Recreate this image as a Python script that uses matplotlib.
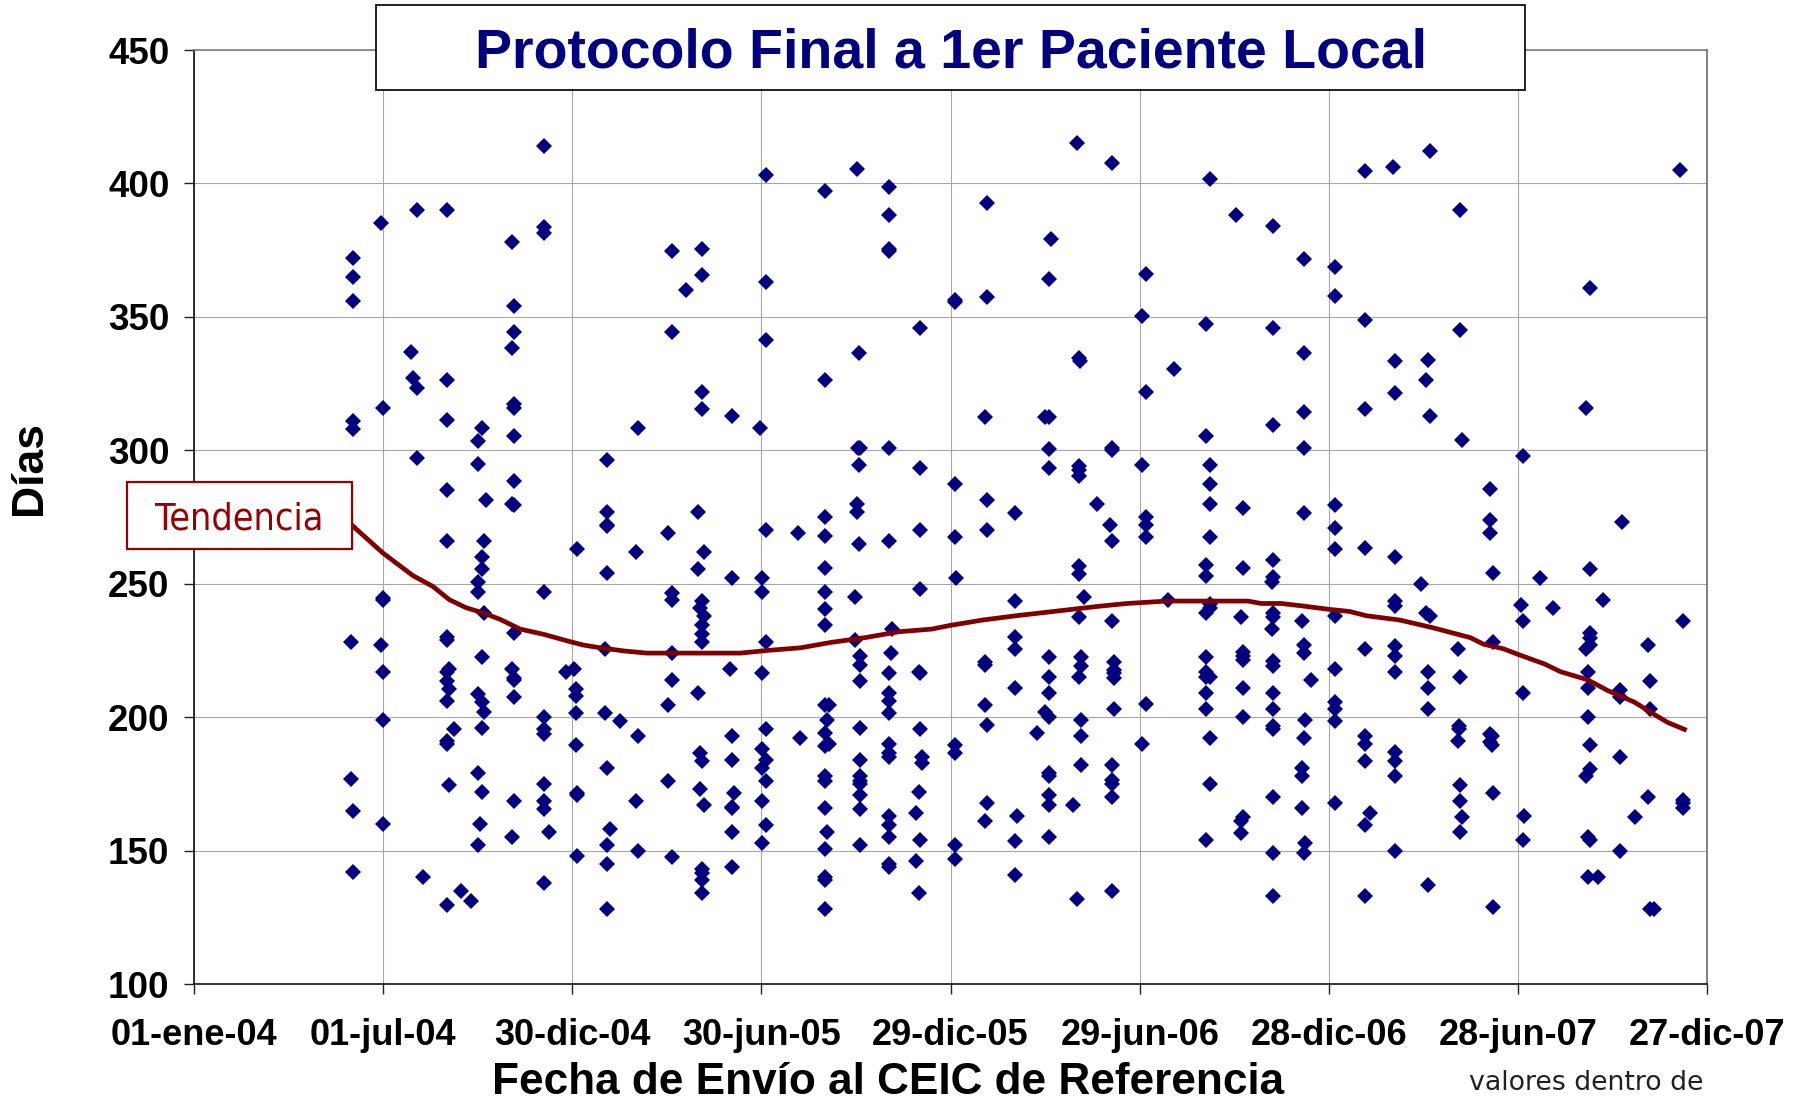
import matplotlib
matplotlib.use("Agg")
import matplotlib.pyplot as plt
from matplotlib.patches import Rectangle
import numpy as np

# each entry: day since 01-ene-04, then the values read in that column
puntos_2004 = [
    (151, [228, 177]),
    (153, [372, 365, 356, 311, 308, 165, 142]),
    (180, [385, 227]),
    (182, [316, 244.7, 244, 217, 199, 160]),
    (209, [337]),
    (211, [327]),
    (215, [390, 323.5, 297]),
    (221, [140]),
    (244, [390, 326.5, 311.5, 285, 266, 230, 229, 217, 213.5, 206, 191, 190, 129.5]),
    (246, [218, 210.5, 174.5]),
    (250, [195.5]),
    (257, [135]),
    (267, [131]),
    (273, [303.5, 295, 250.5, 247, 208.5, 179, 152]),
    (275, [160]),
    (277, [308.5, 260, 255.5, 222.5, 205.5, 196, 172]),
    (279, [266, 239, 202]),
    (281, [281.5]),
    (306, [378, 338.5, 280, 218, 155]),
    (308, [354, 344.5, 317.5, 316, 305.5, 288.5, 279.5, 231.5, 214.5, 214, 207.5, 168.5]),
    (337, [414, 383.5, 381.5, 247, 200, 195.5, 193.5, 175, 168.5, 165.5, 138]),
    (342, [157]),
    (358, [217]),
]
puntos_2005 = [
    (366, [218]),
    (368, [210.5, 208, 201.5, 189.5]),
    (369, [263, 171.5, 171, 148]),
    (396, [225.5, 201.5]),
    (398, [296.5, 277, 272, 271.5, 254, 181, 152, 145, 128]),
    (400, [158]),
    (410, [198.5]),
    (425, [262, 168.5]),
    (427, [308.5, 193, 150]),
    (456, [269, 204.5, 176]),
    (460, [374.5, 344.5, 246.5, 244, 224, 214, 147.5]),
    (474, [360]),
    (485, [277, 255.5, 209]),
    (487, [241, 186.5, 173]),
    (489, [375.5, 365.5, 322, 315.5, 243.5, 234.5, 231, 228, 183.5, 143, 141.5, 139, 134]),
    (491, [262, 238, 167]),
    (516, [218]),
    (518, [313, 252, 193, 184, 166.5, 166, 157, 144]),
    (520, [171.5]),
    (545, [308.5]),
    (547, [252, 247, 216.5, 188, 181, 168.5, 153]),
    (551, [403, 363, 341.5, 270, 228, 195.5, 184, 176, 159.5]),
    (581, [269]),
    (583, [192]),
    (607, [397, 326.5, 275, 268, 256, 247, 240.5, 234.5, 204.5, 194, 189, 178, 176, 166, 150.5, 140, 139, 128]),
    (609, [199, 157]),
    (611, [204.5, 190]),
    (636, [245, 229]),
    (638, [405.5, 280, 277]),
    (639, [301]),
    (640, [336.5, 294.5, 265]),
    (641, [301, 223, 219.5, 213.5, 196, 184, 178, 176, 175, 171, 165.5, 152]),
    (669, [398.5, 388, 375.5, 374.5, 301, 266, 216.5, 209, 206, 201.5, 190, 186.5, 185, 163, 159.5, 155, 145, 144]),
    (671, [224]),
    (672, [233]),
    (695, [164, 146]),
    (698, [217, 172, 134]),
    (699, [346, 293.5, 270, 248, 216.5, 195.5, 154]),
    (701, [185, 183]),
]
puntos_2006 = [
    (732, [356.5, 355.5, 287.5, 267.5, 189.5, 186.5, 152, 147]),
    (733, [252]),
    (761, [312.5, 220.5, 219.5, 204.5, 161]),
    (763, [392.5, 357.5, 281.5, 270, 197, 168]),
    (790, [276.5, 243.5, 230, 225.5, 211, 153.5, 141]),
    (792, [163]),
    (811, [194]),
    (819, [312.5, 202]),
    (823, [364, 312.5, 300.5, 293.5, 222.5, 215, 209, 200, 179, 178, 171, 167, 155]),
    (825, [379]),
    (846, [167]),
    (850, [415, 132]),
    (852, [334.5, 294, 292.5, 290.5, 256.5, 253.5, 237.5, 215]),
    (853, [333.5]),
    (854, [222.5, 219, 199, 193, 182]),
    (856, [245]),
    (869, [280]),
    (881, [272]),
    (883, [407.5, 301, 300, 266, 236, 182, 176.5, 175, 170, 135]),
    (885, [220.5, 217.5, 216.5, 214.5, 203]),
    (912, [350.5, 294.5, 190]),
    (916, [366, 322, 275, 272, 267.5, 205]),
    (937, [244]),
    (943, [330.5]),
    (974, [347.5, 305.5, 257, 253, 239, 222.5, 217, 215, 209, 203, 154]),
    (978, [401.5, 294.5, 287.5, 280, 267.5, 242.5, 241, 215, 192, 175]),
    (1003, [388]),
    (1007, [237.5, 161, 156.5]),
    (1009, [278.5, 256, 224.5, 223, 221.5, 211, 200, 162.5]),
    (1037, [250.5, 233]),
    (1038, [384, 346, 309.5, 259, 252.5, 239, 237.5, 221, 219, 209, 203, 196.5, 195.5, 170, 149, 133]),
    (1066, [236, 181, 178, 166]),
    (1068, [371.5, 336.5, 314.5, 301, 276.5, 227, 224, 192, 149]),
    (1069, [199, 153]),
    (1075, [214]),
]
puntos_2007 = [
    (1098, [368.5, 358, 279.5, 271, 263, 238, 218, 205.5, 203, 198.5, 168]),
    (1127, [404.5, 349, 315.5, 263.5, 225.5, 193, 190, 183.5, 159.5, 133]),
    (1132, [164]),
    (1154, [406]),
    (1156, [333.5, 321.5, 260, 243.5, 241.5, 226.5, 223, 217, 187, 183.5, 178, 150]),
    (1181, [250]),
    (1185, [326.5, 239]),
    (1187, [334, 217, 211, 203, 137]),
    (1189, [412, 313, 238]),
    (1216, [225.5, 191]),
    (1217, [196.5, 195.5]),
    (1218, [390, 345, 215, 174.5, 168.5, 157]),
    (1220, [304, 162.5]),
    (1247, [285.5, 274, 269, 193.5, 190.5]),
    (1249, [193, 189.5]),
    (1250, [254, 228, 171.5, 129]),
    (1277, [242]),
    (1279, [298, 236, 209, 154]),
    (1280, [163]),
    (1295, [252]),
    (1308, [241]),
    (1339, [316, 225.5, 178]),
    (1341, [217, 211, 200, 155, 140]),
    (1343, [361, 255.5, 231.5, 229.5, 227, 189.5, 180.5, 154]),
    (1351, [140]),
    (1356, [244]),
    (1372, [210, 207.5, 185, 150]),
    (1374, [273]),
    (1386, [162.5]),
    (1399, [227, 170]),
    (1401, [213.5, 203, 128]),
    (1405, [128]),
    (1430, [405]),
    (1433, [236, 169, 168, 166]),
]

tendencia_dias = [152, 182, 211, 230, 246, 262, 279, 295, 314, 337, 360, 375, 391, 414, 436,
                  526, 552, 584, 613, 646, 678, 710, 728, 759, 791, 836, 872, 898, 936, 1014,
                  1027, 1046, 1066, 1080, 1092, 1112, 1128, 1160, 1192, 1228, 1241, 1260, 1274,
                  1299, 1315, 1341, 1360, 1386, 1405, 1418, 1434]
tendencia_valores = [272, 261.5, 253, 249, 244, 241, 239, 236.6, 233, 231, 228.5, 227, 226, 224.8, 224,
                     224, 225, 226, 228, 229.8, 232, 233, 234.4, 236.4, 238, 240, 241.6, 242.6, 243.5, 243.5,
                     242.6, 242.6, 241.7, 241, 240.4, 239.6, 238, 236.4, 233.5, 229.8, 227.3, 225.6, 223.5,
                     220, 217, 214, 210, 205.6, 201, 198, 195.4]

x_ticks = [0, 182, 364, 546, 728, 910, 1092, 1274, 1456]
x_labels = ["01-ene-04", "01-jul-04", "30-dic-04", "30-jun-05", "29-dic-05",
            "29-jun-06", "28-dic-06", "28-jun-07", "27-dic-07"]
y_ticks = [100, 150, 200, 250, 300, 350, 400, 450]

W, H = 1801, 1102


def box(x0, y0, x1, y1, edge, lw):
    # pixel box, y measured from the top of the picture
    fig.add_artist(Rectangle((x0 / W, 1 - y1 / H), (x1 - x0) / W, (y1 - y0) / H, transform=fig.transFigure,
                             facecolor="white", edgecolor=edge, linewidth=lw, zorder=5))


dias = []
valores = []
for grupo in [puntos_2004, puntos_2005, puntos_2006, puntos_2007]:
    for dia, vals in grupo:
        dias += [dia] * len(vals)
        valores += vals

fig = plt.figure(figsize=(W / 100, H / 100), dpi=100, facecolor="white")
ax = fig.add_axes([193.7 / W, 1 - 984 / H, (1707.3 - 193.7) / W, (984 - 50) / H])

ax.plot(dias, valores, linestyle="none", marker="D", markersize=8.2, color="#000080",
        markeredgewidth=0, zorder=3, clip_on=False)
ax.plot(tendencia_dias, tendencia_valores, color="#800000", linewidth=3.4, zorder=4)

ax.set_xlim(0, 1456)
ax.set_ylim(100, 450)
ax.set_xticks(x_ticks)
ax.set_xticklabels(x_labels, fontsize=26, fontweight="bold", family="Liberation Sans")
ax.set_yticks(y_ticks)
ax.set_yticklabels([str(v) for v in y_ticks], fontsize=26.5, fontweight="bold", family="Liberation Sans")
ax.tick_params(axis="both", direction="out", length=7.5, width=1, color="#202020", pad=10)
ax.tick_params(axis="x", pad=17)
ax.grid(True, color="#a6a6a6", linewidth=0.8)
ax.set_axisbelow(True)

ax.spines["left"].set_color("#101010")
ax.spines["bottom"].set_color("#101010")
ax.spines["left"].set_linewidth(1.2)
ax.spines["bottom"].set_linewidth(1.2)
ax.spines["top"].set_color("#808080")
ax.spines["right"].set_color("#808080")
ax.spines["top"].set_linewidth(1.2)
ax.spines["right"].set_linewidth(1.4)

# title box
box(376, 5.5, 1525, 90, "#101010", 1.3)
fig.text(951 / W, 1 - 54 / H, "Protocolo Final a 1er Paciente Local", fontsize=40, fontweight="bold",
         color="#000080", ha="center", va="center", zorder=6, family="Liberation Sans")

# trend label
box(127, 482, 352, 548.5, "#990000", 1.6)
fig.text(239 / W, 1 - 520 / H, "Tendencia", fontsize=27, color="#990000", ha="center", va="center",
         zorder=6, family="DejaVu Sans", fontstretch="condensed")

fig.text(888 / W, 1 - 1083 / H, "Fecha de Envío al CEIC de Referencia", fontsize=31.8, fontweight="bold",
         color="black", ha="center", va="center", family="Liberation Sans")
fig.text(30 / W, 1 - 468 / H, "Días", fontsize=32, fontweight="bold", rotation=90,
         ha="center", va="center", family="Liberation Sans")
fig.text(1586 / W, 1 - 1083 / H, "valores dentro de", fontsize=19.3, color="#202020",
         ha="center", va="center")

fig.savefig("out.png", dpi=100)
